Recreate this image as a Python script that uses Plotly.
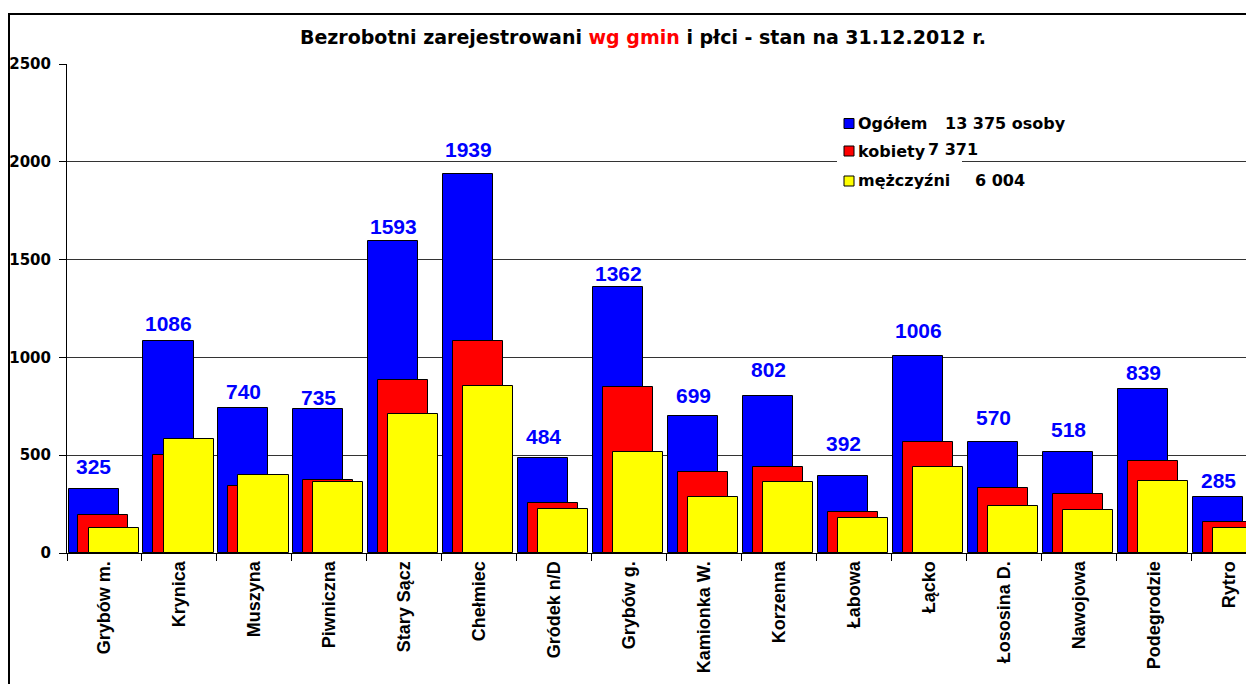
import plotly.graph_objects as go

# data
gminy = ["Grybów m.", "Krynica", "Muszyna", "Piwniczna", "Stary Sącz", "Chełmiec",
         "Gródek n/D", "Grybów g.", "Kamionka W.", "Korzenna", "Łabowa", "Łącko",
         "Łososina D.", "Nawojowa", "Podegrodzie", "Rytro"]
ogolem = [325, 1086, 740, 735, 1593, 1939, 484, 1362, 699, 802, 392, 1006, 570, 518, 839, 285]
kobiety = [195, 502, 342, 372, 882, 1084, 258, 848, 415, 440, 211, 565, 330, 300, 470, 157]
mezczyzni = [130, 584, 398, 363, 711, 855, 226, 514, 284, 362, 181, 441, 240, 218, 369, 128]
legend_names = ["Ogółem", "kobiety", "mężczyźni"]
legend_totals = ["13 375 osoby", "7 371", "6 004"]

# hand-placed label heights above the blue bars (px), as in the original
label_lift = [23, 17, 17, 12, 15, 24, 22, 13, 21, 27, 33, 26, 24, 22, 16, 17]

ARIAL = "Liberation Sans, Arial, sans-serif"
WIDE = "DejaVu Sans, Verdana, sans-serif"

# the page body has an 8px margin, so the figure is 8px smaller than the window
PAGE = 8
W, H = 1254 - PAGE, 684 - PAGE
L, T, B = 67 - PAGE, 64 - PAGE, 131
PW, PH = W - L, H - T - B


def px_x(px):
    # page pixel -> paper coordinate
    return (px - PAGE - L) / PW


def px_y(py):
    return (H - B - (py - PAGE)) / PH


fig = go.Figure()
bar_width = 0.667
for name, vals, color, off in [
    (legend_names[0], ogolem, "#0000FF", -0.48),
    (legend_names[1], kobiety, "#FF0000", -0.347),
    (legend_names[2], mezczyzni, "#FFFF00", -0.213),
]:
    fig.add_trace(go.Bar(
        x=gminy, y=vals, name=name, width=bar_width, offset=off,
        marker=dict(color=color, line=dict(color="black", width=1)),
        showlegend=False, hoverinfo="x+y",
    ))

for g, v, lift in zip(gminy, ogolem, label_lift):
    fig.add_annotation(
        x=g, y=v, text=str(v), showarrow=False, xshift=-11, yshift=lift,
        yanchor="middle", font=dict(family=ARIAL, size=21, color="#0000FF", weight="bold"),
    )

# outer frame of the chart object (cut off by the picture on the right and bottom)
fig.add_shape(type="rect", xref="paper", yref="paper",
              x0=px_x(9), x1=px_x(1320), y0=px_y(740), y1=px_y(14),
              line=dict(color="black", width=2), fillcolor="rgba(0,0,0,0)", layer="above")

# legend box
fig.add_shape(type="rect", xref="paper", yref="paper",
              x0=px_x(837), x1=px_x(962), y0=px_y(196), y1=px_y(108),
              line=dict(width=0), fillcolor="white", layer="above")
leg_y = [123.5, 151, 181]
leg_colors = ["#0000FF", "#FF0000", "#FFFF00"]
tot_x = [943, 926, 973]
tot_dy = [0, -2, 0]
for name, tot, yc, col, tx, dy in zip(legend_names, legend_totals, leg_y, leg_colors, tot_x, tot_dy):
    fig.add_shape(type="rect", xref="paper", yref="paper",
                  x0=px_x(844), x1=px_x(854), y0=px_y(yc + 5), y1=px_y(yc - 5),
                  line=dict(color="black", width=1), fillcolor=col, layer="above")
    fig.add_annotation(x=px_x(856), y=px_y(yc), xref="paper", yref="paper", text=name,
                       showarrow=False, xanchor="left", yanchor="middle",
                       font=dict(family=WIDE, size=16, color="black", weight="bold"))
    fig.add_annotation(x=px_x(tx), y=px_y(yc + dy), xref="paper", yref="paper", text=tot,
                       showarrow=False, xanchor="left", yanchor="middle",
                       font=dict(family=WIDE, size=16, color="black", weight="bold"))

fig.update_layout(
    width=W, height=H,
    margin=dict(l=L, r=0, t=T, b=B, pad=0),
    paper_bgcolor="white", plot_bgcolor="white",
    barmode="overlay", bargap=0,
    title=dict(
        text="Bezrobotni zarejestrowani <span style='color:#FF0000'>wg gmin</span> i płci - stan na 31.12.2012 r.",
        x=(643 - PAGE) / W, xref="container", xanchor="center",
        y=1 - (37 - PAGE) / H, yref="container", yanchor="middle",
        font=dict(family=WIDE, size=19, color="black", weight="bold"),
    ),
    xaxis=dict(
        type="category", range=[-0.5, 15.33], tickangle=-90,
        showline=True, linecolor="black", linewidth=1,
        ticks="outside", tickson="boundaries", ticklen=7, tickcolor="black",
        showgrid=False,
        tickfont=dict(family=ARIAL, size=18, color="black", weight="bold"),
    ),
    yaxis=dict(
        range=[0, 2500], dtick=500, tickformat="d",
        showline=True, linecolor="black", linewidth=1,
        ticks="outside", ticklen=7, tickcolor="black", ticklabelstandoff=5,
        showgrid=True, gridcolor="#333333", gridwidth=1, zeroline=False,
        tickfont=dict(family=WIDE, size=15, color="black", weight="bold"),
    ),
)

fig.write_html("out.html")
